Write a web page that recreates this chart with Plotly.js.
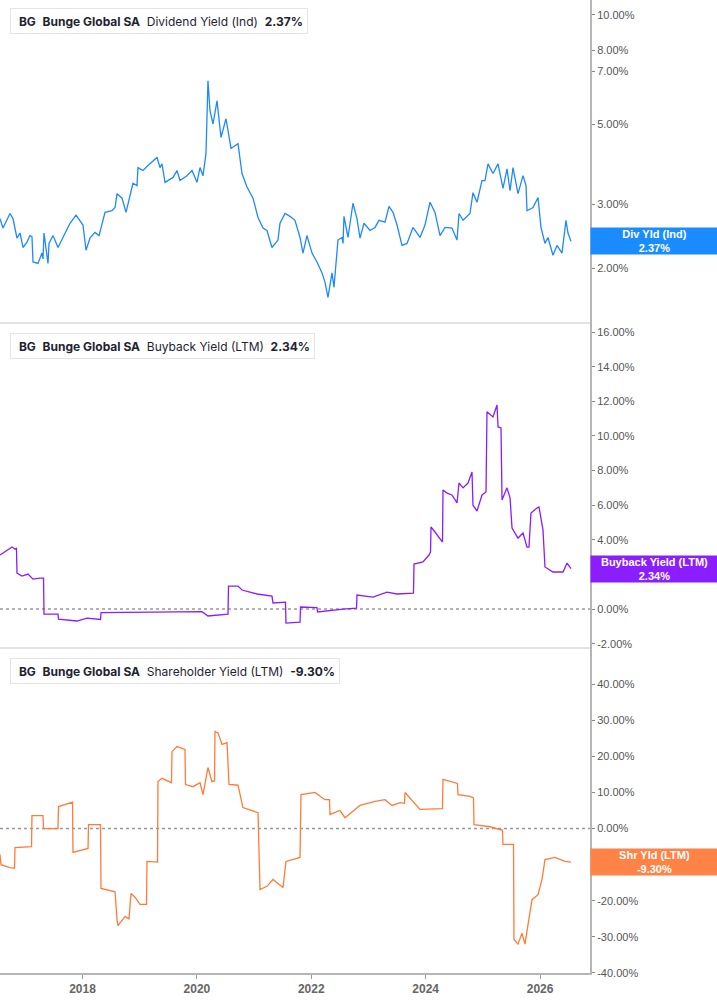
<!DOCTYPE html>
<html><head><meta charset="utf-8">
<script src="https://cdn.plot.ly/plotly-3.0.1.min.js"></script>
<style>html,body{margin:0;padding:0;background:#fff}#chart{width:717px;height:1005px}</style>
</head><body><div id="chart"></div><script>
// ---- data (x = decimal year) ----
const yearTicks = [2018, 2020, 2022, 2024, 2026];
const ticker = 'BG';
const company = 'Bunge Global SA';
const seriesNames = ['Dividend Yield (Ind)', 'Buyback Yield (LTM)', 'Shareholder Yield (LTM)'];
const shortNames = ['Div Yld (Ind)', 'Buyback Yield (LTM)', 'Shr Yld (LTM)'];
const lastValues = [2.37, 2.34, -9.30];
const divTicks = [2, 3, 5, 7, 8, 10];
const bbTicks = [-2, 0, 2, 4, 6, 8, 10, 12, 14, 16];
const shrTicks = [-40, -30, -20, -10, 0, 10, 20, 30, 40];

const divX = [2016.558,2016.610,2016.733,2016.785,2016.855,2016.908,2016.960,2017.030,2017.082,2017.117,2017.135,2017.222,2017.292,2017.310,2017.327,2017.397,2017.415,2017.485,2017.572,2017.659,2017.782,2017.887,2017.992,2018.009,2018.062,2018.131,2018.219,2018.289,2018.394,2018.516,2018.569,2018.604,2018.691,2018.761,2018.831,2018.883,2018.953,2018.971,2019.058,2019.145,2019.303,2019.355,2019.390,2019.443,2019.583,2019.652,2019.705,2019.827,2019.915,2020.002,2020.055,2020.107,2020.159,2020.194,2020.229,2020.282,2020.352,2020.422,2020.509,2020.597,2020.719,2020.789,2020.876,2020.981,2021.069,2021.156,2021.226,2021.313,2021.418,2021.453,2021.541,2021.628,2021.715,2021.803,2021.855,2021.925,2022.013,2022.100,2022.188,2022.240,2022.292,2022.362,2022.397,2022.467,2022.537,2022.555,2022.572,2022.642,2022.729,2022.799,2022.852,2022.922,2023.027,2023.114,2023.184,2023.289,2023.359,2023.429,2023.499,2023.586,2023.674,2023.778,2023.901,2023.988,2024.076,2024.163,2024.251,2024.338,2024.460,2024.548,2024.583,2024.653,2024.775,2024.827,2024.897,2024.985,2025.037,2025.090,2025.177,2025.265,2025.352,2025.422,2025.475,2025.527,2025.614,2025.702,2025.754,2025.772,2025.876,2025.964,2026.016,2026.086,2026.139,2026.226,2026.296,2026.383,2026.453,2026.488,2026.541];
const divY = [2.74,2.58,2.83,2.74,2.42,2.50,2.28,2.36,2.46,2.44,2.08,2.06,2.20,2.12,2.50,2.06,2.34,2.46,2.28,2.43,2.66,2.80,2.66,2.63,2.24,2.42,2.51,2.46,2.85,2.88,2.94,3.21,3.12,2.85,3.17,3.43,3.38,3.79,3.72,3.84,4.04,3.79,3.88,3.45,3.56,3.72,3.49,3.60,3.72,3.45,3.79,3.60,4.14,6.58,5.44,5.00,5.79,4.59,5.17,4.28,4.41,3.65,3.35,3.12,2.76,2.58,2.54,2.28,2.39,2.66,2.83,2.78,2.71,2.43,2.20,2.46,2.20,2.08,1.94,1.83,1.66,1.94,1.77,2.39,2.43,2.34,2.78,2.43,3.02,2.74,2.42,2.66,2.54,2.59,2.71,2.68,2.96,2.85,2.63,2.31,2.34,2.59,2.43,2.63,3.04,2.85,2.46,2.59,2.58,2.39,2.83,2.71,2.83,3.23,3.04,3.49,3.49,3.88,3.65,3.88,3.32,3.76,3.27,3.79,3.21,3.60,3.38,2.88,2.94,3.13,2.59,2.34,2.43,2.17,2.31,2.20,2.71,2.50,2.37];

const bbX = [2016.558,2016.680,2016.768,2016.820,2016.846,2016.855,2016.943,2017.048,2017.135,2017.257,2017.319,2017.327,2017.572,2017.581,2017.904,2018.079,2018.315,2018.324,2019.583,2020.090,2020.194,2020.544,2020.553,2020.719,2020.789,2021.051,2021.313,2021.331,2021.549,2021.558,2021.803,2021.812,2022.100,2022.109,2022.555,2022.791,2022.799,2023.079,2023.324,2023.499,2023.787,2023.796,2023.953,2024.058,2024.085,2024.093,2024.163,2024.286,2024.294,2024.303,2024.373,2024.460,2024.548,2024.583,2024.653,2024.740,2024.810,2024.827,2024.897,2024.985,2025.055,2025.072,2025.177,2025.247,2025.265,2025.317,2025.335,2025.422,2025.475,2025.510,2025.614,2025.702,2025.772,2025.806,2025.841,2025.946,2025.981,2026.051,2026.086,2026.226,2026.401,2026.471,2026.541];
const bbY = [3.12,3.41,3.58,3.47,3.50,2.08,1.91,2.02,1.73,1.79,1.79,-0.29,-0.29,-0.58,-0.69,-0.52,-0.60,-0.20,-0.15,-0.15,-0.40,-0.29,1.33,1.33,1.10,0.87,0.75,0.35,0.40,-0.81,-0.75,0.12,0.08,-0.17,0.00,0.05,0.81,0.69,0.98,0.87,0.92,2.60,2.72,3.12,3.30,4.74,4.45,3.87,3.87,6.88,6.70,6.59,6.13,7.28,7.00,7.28,7.92,6.00,5.66,6.59,6.76,11.39,11.10,11.79,10.52,10.46,6.30,7.00,6.42,4.68,4.10,4.39,3.58,3.58,5.55,5.84,5.90,4.57,2.43,2.14,2.14,2.66,2.34];

const shrX = [2016.558,2016.575,2016.733,2016.812,2016.820,2017.109,2017.117,2017.310,2017.319,2017.572,2017.581,2017.817,2017.826,2017.834,2018.044,2018.097,2018.105,2018.315,2018.324,2018.569,2018.604,2018.621,2018.743,2018.813,2018.848,2018.918,2019.006,2019.119,2019.128,2019.312,2019.320,2019.390,2019.556,2019.565,2019.652,2019.792,2019.801,2019.932,2020.055,2020.107,2020.194,2020.264,2020.308,2020.317,2020.369,2020.439,2020.527,2020.562,2020.719,2020.806,2021.069,2021.104,2021.226,2021.331,2021.506,2021.558,2021.803,2021.820,2022.065,2022.240,2022.319,2022.327,2022.502,2022.590,2022.764,2022.852,2023.114,2023.289,2023.411,2023.551,2023.630,2023.639,2023.901,2024.251,2024.294,2024.303,2024.513,2024.556,2024.565,2024.775,2024.836,2024.845,2025.125,2025.300,2025.343,2025.352,2025.536,2025.544,2025.614,2025.684,2025.737,2025.789,2025.859,2025.964,2026.034,2026.086,2026.261,2026.436,2026.541];
const shrY = [-7.2,-10.0,-10.8,-11.0,-5.3,-5.0,3.6,3.6,0.0,0.0,6.1,7.2,7.3,-6.6,-5.8,-5.5,1.1,1.1,-16.6,-17.5,-25.2,-26.9,-24.4,-25.0,-18.0,-19.0,-21.0,-21.0,-9.1,-9.3,13.0,13.9,12.7,21.3,22.7,21.9,12.2,11.6,12.7,9.4,16.9,13.0,13.2,26.9,26.5,23.3,23.8,12.2,12.0,5.8,4.4,-16.9,-16.0,-14.1,-16.3,-9.1,-8.0,9.4,10.0,8.0,8.0,3.9,5.0,3.0,5.3,6.4,7.5,8.0,6.4,7.2,7.0,10.0,5.3,5.3,5.5,13.6,12.7,12.5,9.4,8.9,8.5,1.1,0.5,-0.3,-0.5,-4.4,-4.4,-30.7,-32.0,-29.0,-32.0,-26.6,-19.7,-18.3,-14.1,-8.6,-8.0,-9.1,-9.3];

// ---- styles ----
const colors = ['#1E88FF', '#8B1CFF', '#FF7B3A'];
const boxColors = ['#1A8CFF', '#8A1EFF', '#FF8247'];
const axisGray = '#b5b5b5';
const tickFont = {family: 'Liberation Sans, Arial, sans-serif', size: 11, color: '#555'};
const domTop = [0.668, 1], domMid = [0.334, 0.668], domBot = [0, 0.334];

const traces = [
  {x: divX, y: divY, xaxis: 'x', yaxis: 'y', type: 'scatter', mode: 'lines', line: {color: colors[0], width: 1.3}},
  {x: bbX, y: bbY, xaxis: 'x', yaxis: 'y2', type: 'scatter', mode: 'lines', line: {color: colors[1], width: 1.3}},
  {x: shrX, y: shrY, xaxis: 'x', yaxis: 'y3', type: 'scatter', mode: 'lines', line: {color: colors[2], width: 1.3}}
];

function pct(v) { return v.toFixed(2) + '%'; }
const yCommon = {
  side: 'right', anchor: 'x', showline: true, linecolor: axisGray, linewidth: 2,
  ticks: 'outside', ticklen: 3, tickcolor: '#888', tickwidth: 1,
  tickfont: tickFont, tickmode: 'array',
  showgrid: false, zeroline: false, fixedrange: true
};

const sep = '&nbsp;&nbsp;';
function header(i) {
  return '<b>' + ticker + '</b>' + sep + '<b>' + company + '</b>' + sep + seriesNames[i] + sep + '<b>' + pct(lastValues[i]) + '</b>';
}
const headerY = [1, domMid[1], domBot[1]];
const headerShift = [-8, -10, -10];
const annotations = [];
const shapes = [];
for (let i = 0; i < 3; i++) {
  annotations.push({
    xref: 'paper', yref: 'paper', x: 0, y: headerY[i], xanchor: 'left', yanchor: 'top',
    xshift: 10, yshift: headerShift[i], showarrow: false, align: 'left',
    text: '&nbsp;' + header(i),
    font: {family: 'Inter, Noto Sans, sans-serif', size: 12, color: '#1f2330'},
    bgcolor: '#ffffff', bordercolor: '#e4e4e4', borderwidth: 1, borderpad: 4.5
  });
  shapes.push({
    type: 'rect', xref: 'paper', yref: 'paper', xsizemode: 'pixel', ysizemode: 'pixel',
    xanchor: 0, yanchor: headerY[i], x0: 10, x1: 13.5,
    y0: headerShift[i], y1: headerShift[i] - 25,
    fillcolor: colors[i], line: {width: 0}
  });
}
const yrefs = ['y', 'y2', 'y3'];
const labelY = [Math.log10(lastValues[0]), lastValues[1], lastValues[2]];
for (let i = 0; i < 3; i++) {
  annotations.push({
    xref: 'paper', yref: yrefs[i], x: 1, y: labelY[i], xanchor: 'left', yanchor: 'middle',
    showarrow: false, align: 'center', width: 123, height: 22,
    text: '<b>' + shortNames[i] + '</b><br><b>' + pct(lastValues[i]) + '</b>',
    font: {family: 'Liberation Sans, Arial, sans-serif', size: 11, color: '#ffffff'},
    bgcolor: boxColors[i], borderpad: 2
  });
}
// zero reference lines
['y2', 'y3'].forEach(function (yr) {
  shapes.push({type: 'line', xref: 'paper', yref: yr, x0: 0, x1: 1, y0: 0, y1: 0,
    line: {color: '#999', width: 1.5, dash: 'dot'}, layer: 'below'});
});
// panel separators
[domTop[0], domMid[0]].forEach(function (py) {
  shapes.push({type: 'line', xref: 'paper', yref: 'paper', x0: 0, x1: 1, y0: py, y1: py,
    line: {color: '#c8c8c8', width: 1}});
});

const layout = {
  width: 717, height: 1005,
  margin: {l: 0, r: 127, t: 0, b: 32},
  paper_bgcolor: '#fff', plot_bgcolor: '#fff',
  showlegend: false,
  xaxis: {
    type: 'linear', anchor: 'y3', range: [2016.558, 2026.873], tickmode: 'array',
    tickvals: yearTicks, ticktext: yearTicks.map(function (y) { return '<b>' + y + '</b>'; }),
    showline: true, linecolor: axisGray, linewidth: 2,
    ticks: 'outside', ticklen: 4, tickcolor: '#999',
    tickfont: {family: 'Liberation Sans, Arial, sans-serif', size: 12, color: '#666'},
    showgrid: false, zeroline: false, fixedrange: true
  },
  yaxis: Object.assign({}, yCommon, {domain: domTop, type: 'log', range: [0.1493, 1.0414],
    tickvals: divTicks, ticktext: divTicks.map(pct)}),
  yaxis2: Object.assign({}, yCommon, {domain: domMid, range: [-2.25, 16.52],
    tickvals: bbTicks, ticktext: bbTicks.map(pct)}),
  yaxis3: Object.assign({}, yCommon, {domain: domBot, range: [-40, 50],
    tickvals: shrTicks, ticktext: shrTicks.map(pct)}),
  annotations: annotations,
  shapes: shapes
};

Plotly.newPlot('chart', traces, layout, {displayModeBar: false, staticPlot: true});
</script></body></html>
